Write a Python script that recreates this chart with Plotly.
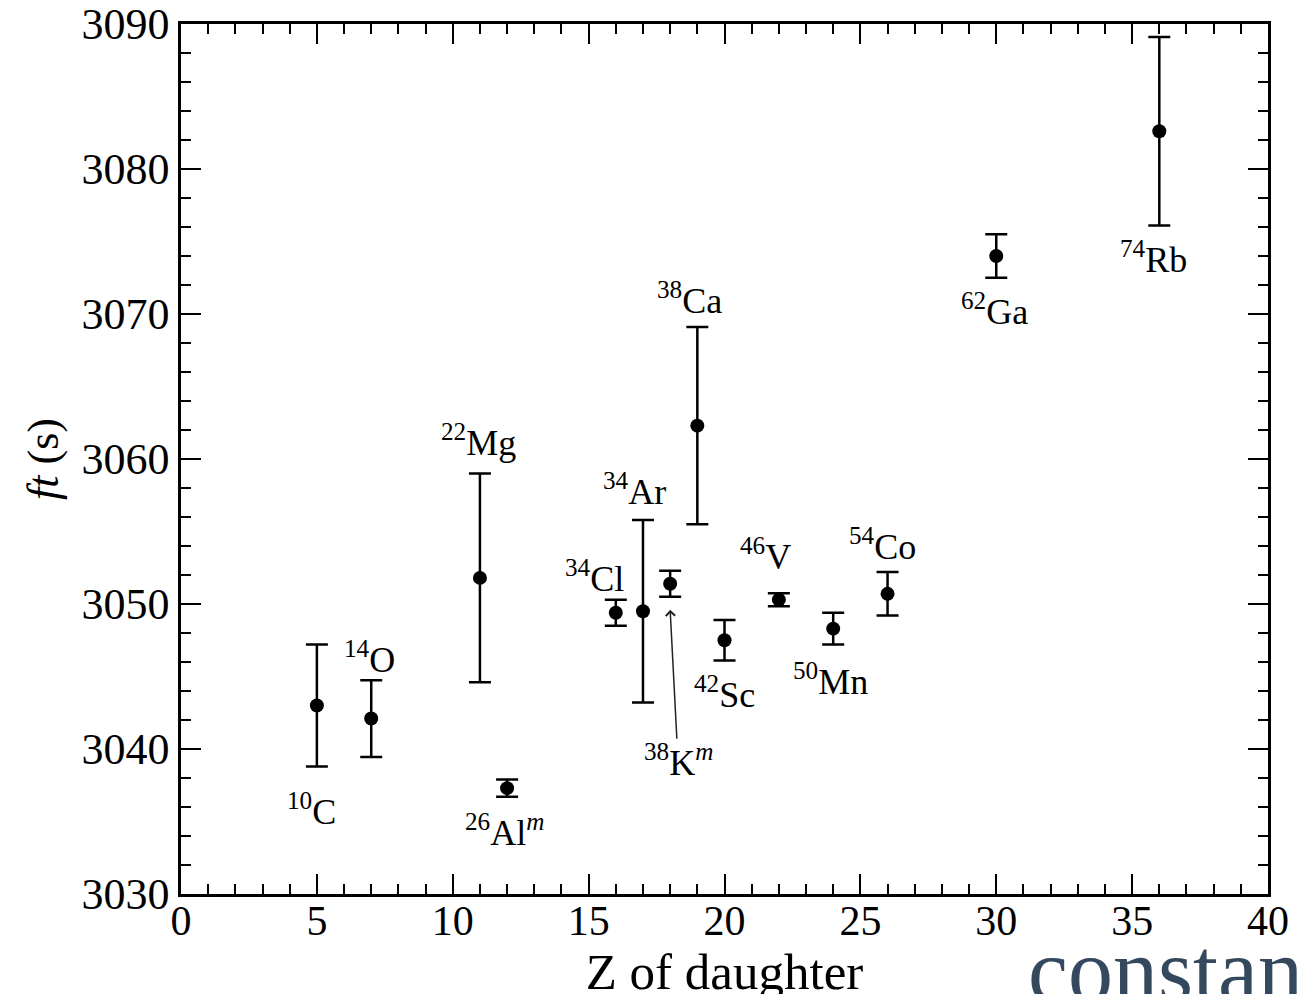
import plotly.graph_objects as go

# Data
nuclides = ["10C", "14O", "22Mg", "26Alm", "34Cl", "34Ar", "38Km", "38Ca",
            "42Sc", "46V", "50Mn", "54Co", "62Ga", "74Rb"]
z_daughter = [5, 7, 11, 12, 16, 17, 18, 19, 20, 22, 24, 26, 30, 36]
ft_values = [3043.0, 3042.1, 3051.8, 3037.3, 3049.4, 3049.5, 3051.4, 3062.3,
             3047.5, 3050.3, 3048.3, 3050.7, 3074.0, 3082.6]
ft_errors = [4.2, 2.65, 7.2, 0.6, 0.9, 6.3, 0.9, 6.8,
             1.4, 0.45, 1.1, 1.5, 1.5, 6.5]

label_texts = ["<sup>10</sup>C", "<sup>14</sup>O", "<sup>22</sup>Mg",
               "<sup>26</sup>Al<sup><i>m</i></sup>", "<sup>34</sup>Cl",
               "<sup>34</sup>Ar", "<sup>38</sup>K<sup><i>m</i></sup>",
               "<sup>38</sup>Ca", "<sup>42</sup>Sc", "<sup>46</sup>V",
               "<sup>50</sup>Mn", "<sup>54</sup>Co", "<sup>62</sup>Ga",
               "<sup>74</sup>Rb"]
label_x = [4.8, 6.95, 10.95, 11.9, 15.2, 16.7, 18.3, 18.7,
           20.0, 21.5, 23.9, 25.8, 29.95, 35.8]
label_y = [3035.8, 3046.3, 3061.3, 3034.4, 3051.9, 3057.9, 3039.2, 3071.1,
           3043.9, 3053.4, 3044.8, 3054.1, 3070.3, 3073.9]

# arrow for 38K^m: head and tail (data coords)
arrow_head = (18.0, 3049.6)
arrow_tail = (18.25, 3040.6)

x_ticks = [0, 5, 10, 15, 20, 25, 30, 35, 40]
y_ticks = [3030, 3040, 3050, 3060, 3070, 3080, 3090]

FONT = "Liberation Serif"

fig = go.Figure()
fig.add_trace(go.Scatter(
    x=z_daughter, y=ft_values, mode="markers",
    marker=dict(color="black", size=14),
    error_y=dict(type="data", array=ft_errors, visible=True,
                 color="black", thickness=2.5, width=11),
    showlegend=False,
))

for t, lx, ly in zip(label_texts, label_x, label_y):
    fig.add_annotation(x=lx, y=ly, text=t, showarrow=False,
                       font=dict(family=FONT, size=36, color="black"),
                       xref="x", yref="y")

fig.add_annotation(x=arrow_head[0], y=arrow_head[1], ax=arrow_tail[0], ay=arrow_tail[1],
                   xref="x", yref="y", axref="x", ayref="y", text="",
                   showarrow=True, arrowhead=4, arrowsize=1.2, arrowwidth=1.5,
                   arrowcolor="#222")

fig.add_annotation(text="constan", xref="paper", yref="paper",
                   x=0.777, y=-0.088, xanchor="left", yanchor="middle",
                   showarrow=False,
                   font=dict(family=FONT, size=90, color="#34495e"))

axis_common = dict(
    showgrid=False, zeroline=False, showline=True, linecolor="black",
    linewidth=2.5, mirror="allticks", ticks="inside", ticklen=20,
    tickwidth=2, tickcolor="black", automargin=False,
    ticklabeloverflow="allow",
)

fig.update_xaxes(range=[0, 40], tickvals=x_ticks,
                 tickfont=dict(family=FONT, size=42, color="black"),
                 ticklabelstandoff=-12,
                 minor=dict(dtick=1, ticks="inside", ticklen=10, tickwidth=2,
                            tickcolor="black"),
                 title=dict(text="Z of daughter",
                            font=dict(family=FONT, size=51, color="black"),
                            standoff=0),
                 **axis_common)
fig.update_yaxes(range=[3030, 3090], tickvals=y_ticks,
                 tickfont=dict(family=FONT, size=44, color="black"),
                 minor=dict(dtick=2, ticks="inside", ticklen=10, tickwidth=2,
                            tickcolor="black"),
                 title=dict(text="<i>ft</i> (s)",
                            font=dict(family=FONT, size=44, color="black"),
                            standoff=10),
                 **axis_common)

fig.update_layout(
    width=1307, height=994,
    margin=dict(l=173, r=47, t=16, b=108),
    plot_bgcolor="white", paper_bgcolor="white",
)

fig.write_html("out.html")
